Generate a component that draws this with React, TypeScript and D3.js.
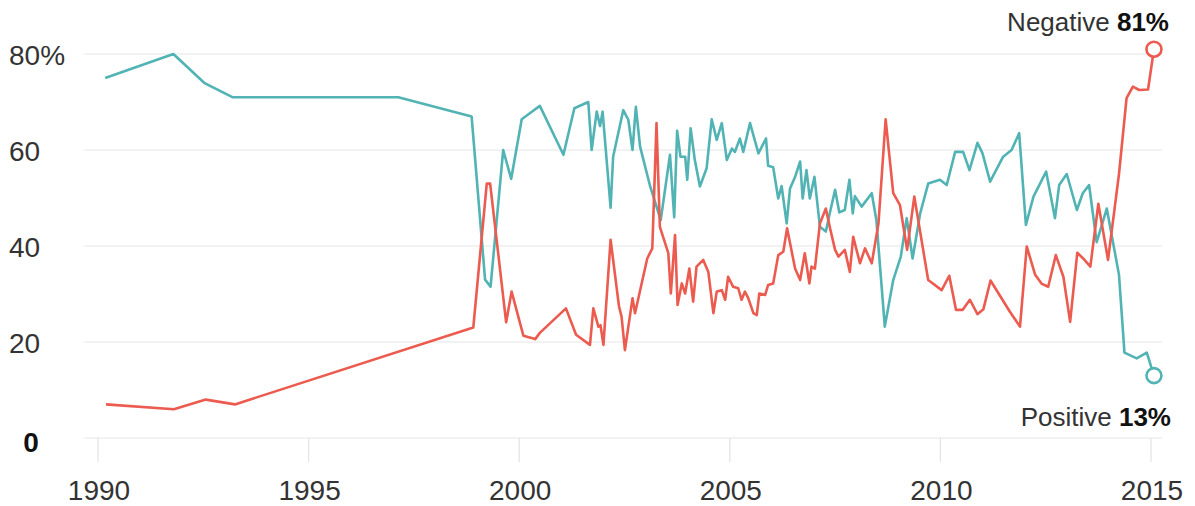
import * as d3 from "d3";

// survey dates as decimal years, values in %
const positiveYears = [
  1990.17, 1991.79, 1992.52, 1993.19, 1997.13, 1998.87, 1999.19, 1999.32, 1999.62, 1999.81,
  2000.06, 2000.26, 2000.49, 2001.05, 2001.31, 2001.64, 2001.72, 2001.84, 2001.92, 2001.98,
  2002.17, 2002.23, 2002.47, 2002.59, 2002.69, 2002.77, 2002.87, 2003.11, 2003.36, 2003.58,
  2003.68, 2003.75, 2003.83, 2003.94, 2003.99, 2004.07, 2004.17, 2004.29, 2004.45, 2004.57,
  2004.69, 2004.81, 2004.93, 2005.05, 2005.12, 2005.24, 2005.32, 2005.48, 2005.68, 2005.86,
  2005.91, 2006.03, 2006.15, 2006.23, 2006.35, 2006.43, 2006.55, 2006.67, 2006.73, 2006.82,
  2006.9, 2007.01, 2007.14, 2007.28, 2007.38, 2007.5, 2007.6, 2007.73, 2007.84, 2007.92,
  2007.97, 2008.13, 2008.37, 2008.48, 2008.68, 2008.88, 2009.06, 2009.2, 2009.34, 2009.52,
  2009.71, 2009.99, 2010.15, 2010.35, 2010.54, 2010.69, 2010.88, 2011.0, 2011.18, 2011.49,
  2011.69, 2011.87, 2012.03, 2012.21, 2012.51, 2012.72, 2012.82, 2013.0, 2013.24, 2013.38,
  2013.53, 2013.71, 2013.95, 2014.24, 2014.37, 2014.66, 2014.9, 2015.07,
];
const positiveValues = [
  75, 80, 74, 71, 71, 67, 33, 31.5, 60, 54,
  66.4, 67.7, 69.2, 59, 68.7, 70, 60, 68, 65, 68,
  48, 58.6, 68.3, 66.3, 60, 69, 60.7, 52.4, 45.4, 59,
  46, 64, 58.6, 58.6, 53.8, 64.5, 57.9, 52.4, 56.2, 66.4,
  62.1, 65.6, 57.9, 60.3, 59.6, 62.4, 59.6, 65.6, 59.3, 62.4,
  56.7, 56.4, 49.9, 52.5, 44.7, 52, 54.4, 57.6, 49.9, 55.8,
  49.9, 54.4, 44, 43, 47.1, 51.7, 47, 47.5, 53.8, 46.8,
  50.4, 48.2, 51, 45.4, 23.2, 32.9, 37.8, 45.8, 37.4, 46.8,
  53, 53.8, 52.7, 59.6, 59.6, 55.8, 61.5, 59.3, 53.4, 58.6,
  60, 63.5, 44.4, 50.3, 55.5, 45.8, 52.7, 55, 47.5, 51,
  52.7, 40.8, 47.8, 34, 17.8, 16.6, 17.8, 13,
];

const negativeYears = [
  1990.19, 1991.8, 1992.56, 1993.25, 1998.91, 1999.23, 1999.31, 1999.69, 1999.82, 2000.1,
  2000.38, 2000.49, 2001.11, 2001.35, 2001.68, 2001.76, 2001.88, 2001.93, 2002.0, 2002.17,
  2002.37, 2002.43, 2002.51, 2002.69, 2002.75, 2003.04, 2003.16, 2003.26, 2003.34, 2003.54,
  2003.6, 2003.7, 2003.76, 2003.86, 2003.94, 2004.04, 2004.13, 2004.21, 2004.37, 2004.49,
  2004.61, 2004.69, 2004.81, 2004.89, 2004.96, 2005.08, 2005.2, 2005.28, 2005.36, 2005.44,
  2005.56, 2005.64, 2005.7, 2005.84, 2005.91, 2006.03, 2006.15, 2006.27, 2006.36, 2006.43,
  2006.55, 2006.67, 2006.78, 2006.89, 2006.94, 2007.02, 2007.14, 2007.28, 2007.38, 2007.5,
  2007.58, 2007.73, 2007.85, 2007.93, 2008.09, 2008.21, 2008.37, 2008.53, 2008.7, 2008.88,
  2009.04, 2009.21, 2009.38, 2009.71, 2010.03, 2010.21, 2010.37, 2010.53, 2010.7, 2010.88,
  2011.02, 2011.19, 2011.65, 2011.89, 2012.05, 2012.25, 2012.41, 2012.56, 2012.74, 2012.92,
  2013.08, 2013.25, 2013.39, 2013.56, 2013.75, 2013.98, 2014.24, 2014.42, 2014.57, 2014.72,
  2014.93, 2015.07,
];
const negativeValues = [
  7, 6, 8, 7, 23, 53, 53, 24.1, 30.5, 21.3,
  20.6, 21.9, 27, 21.5, 19.4, 27, 23.2, 23.5, 19.4, 41.3,
  27.4, 25.3, 18.3, 29.1, 26, 37.4, 39.5, 65.6, 44, 38.5,
  30.1, 42.3, 27.7, 32.2, 30.1, 35.3, 28.4, 35.7, 37.1, 34.6,
  26, 30.5, 30.8, 28.8, 33.6, 31.5, 31.2, 28.8, 30.5, 29.1,
  26, 25.6, 30.1, 29.8, 31.9, 32.2, 38.1, 38.8, 43.7, 40.6,
  35.3, 32.9, 38.5, 32.2, 35.7, 35.3, 44.7, 47.8, 43.7, 39.2,
  37.8, 39.2, 34.6, 41.9, 36.4, 39.5, 36.4, 44.7, 66.4, 51,
  48.5, 39.2, 50.3, 32.9, 30.8, 33.8, 26.7, 26.7, 28.8, 25.8,
  26.8, 32.8, 26.3, 23.2, 39.9, 34, 32.1, 31.5, 38.1, 33.6,
  24.2, 38.6, 37.4, 35.7, 48.8, 37.1, 55, 70.8, 73.2, 72.5,
  72.6, 81,
];

const xTicks = [1990, 1995, 2000, 2005, 2010, 2015];
const yTicks = [0, 20, 40, 60, 80];
const yTickLabels = ["0", "20", "40", "60", "80%"];

const POS = "#52b3b4";
const NEG = "#ec5b4f";
const FONT = "'Liberation Sans', Arial, sans-serif";

export default function App() {
  const width = 1195;
  const height = 506;

  const x = d3.scaleLinear().domain([1990, 2015]).range([98, 1151]);
  const y = d3.scaleLinear().domain([0, 80]).range([438, 54]);

  const line = d3
    .line<[number, number]>()
    .x((d) => x(d[0]))
    .y((d) => y(d[1]));

  const posData = positiveYears.map((t, i) => [t, positiveValues[i]] as [number, number]);
  const negData = negativeYears.map((t, i) => [t, negativeValues[i]] as [number, number]);
  const posLast = posData[posData.length - 1];
  const negLast = negData[negData.length - 1];

  return (
    <svg
      width={width}
      height={height}
      style={{ position: "absolute", left: 0, top: 0, background: "#fff" }}
      fontFamily={FONT}
    >
      {/* grid */}
      {yTicks.map((t) => (
        <line key={t} x1={84} x2={1162} y1={y(t)} y2={y(t)} stroke="#e6e6e6" strokeWidth={1.2} />
      ))}
      {xTicks.map((t) => (
        <line key={t} x1={x(t)} x2={x(t)} y1={y(0)} y2={y(0) + 24} stroke="#e3e3e3" strokeWidth={1.2} />
      ))}

      {/* y labels */}
      {yTicks.map((t, i) =>
        t === 0 ? (
          <text key={t} x={31} y={y(t) + 14} fontSize={28} fontWeight="bold" fill="#111" textAnchor="middle">
            {yTickLabels[i]}
          </text>
        ) : (
          <text key={t} x={9} y={y(t) + 11} fontSize={28} fill="#333">
            {yTickLabels[i]}
          </text>
        )
      )}

      {/* x labels */}
      {xTicks.map((t) => (
        <text key={t} x={x(t) + 1} y={500} fontSize={28} fill="#333" textAnchor="middle">
          {t}
        </text>
      ))}

      {/* lines */}
      <path d={line(posData) ?? ""} fill="none" stroke={POS} strokeWidth={2.6} strokeLinejoin="round" />
      <path d={line(negData) ?? ""} fill="none" stroke={NEG} strokeWidth={2.6} strokeLinejoin="round" />

      {/* end markers */}
      <circle cx={x(negLast[0])} cy={y(negLast[1])} r={7.5} fill="#fff" stroke={NEG} strokeWidth={2.6} />
      <circle cx={x(posLast[0])} cy={y(posLast[1])} r={7.5} fill="#fff" stroke={POS} strokeWidth={2.6} />

      {/* annotations */}
      <text x={1169} y={31} fontSize={26} fill="#333" textAnchor="end">
        Negative <tspan fontWeight="bold" fill="#111">81%</tspan>
      </text>
      <text x={1171} y={426} fontSize={26} fill="#333" textAnchor="end">
        Positive <tspan fontWeight="bold" fill="#111">13%</tspan>
      </text>
    </svg>
  );
}
